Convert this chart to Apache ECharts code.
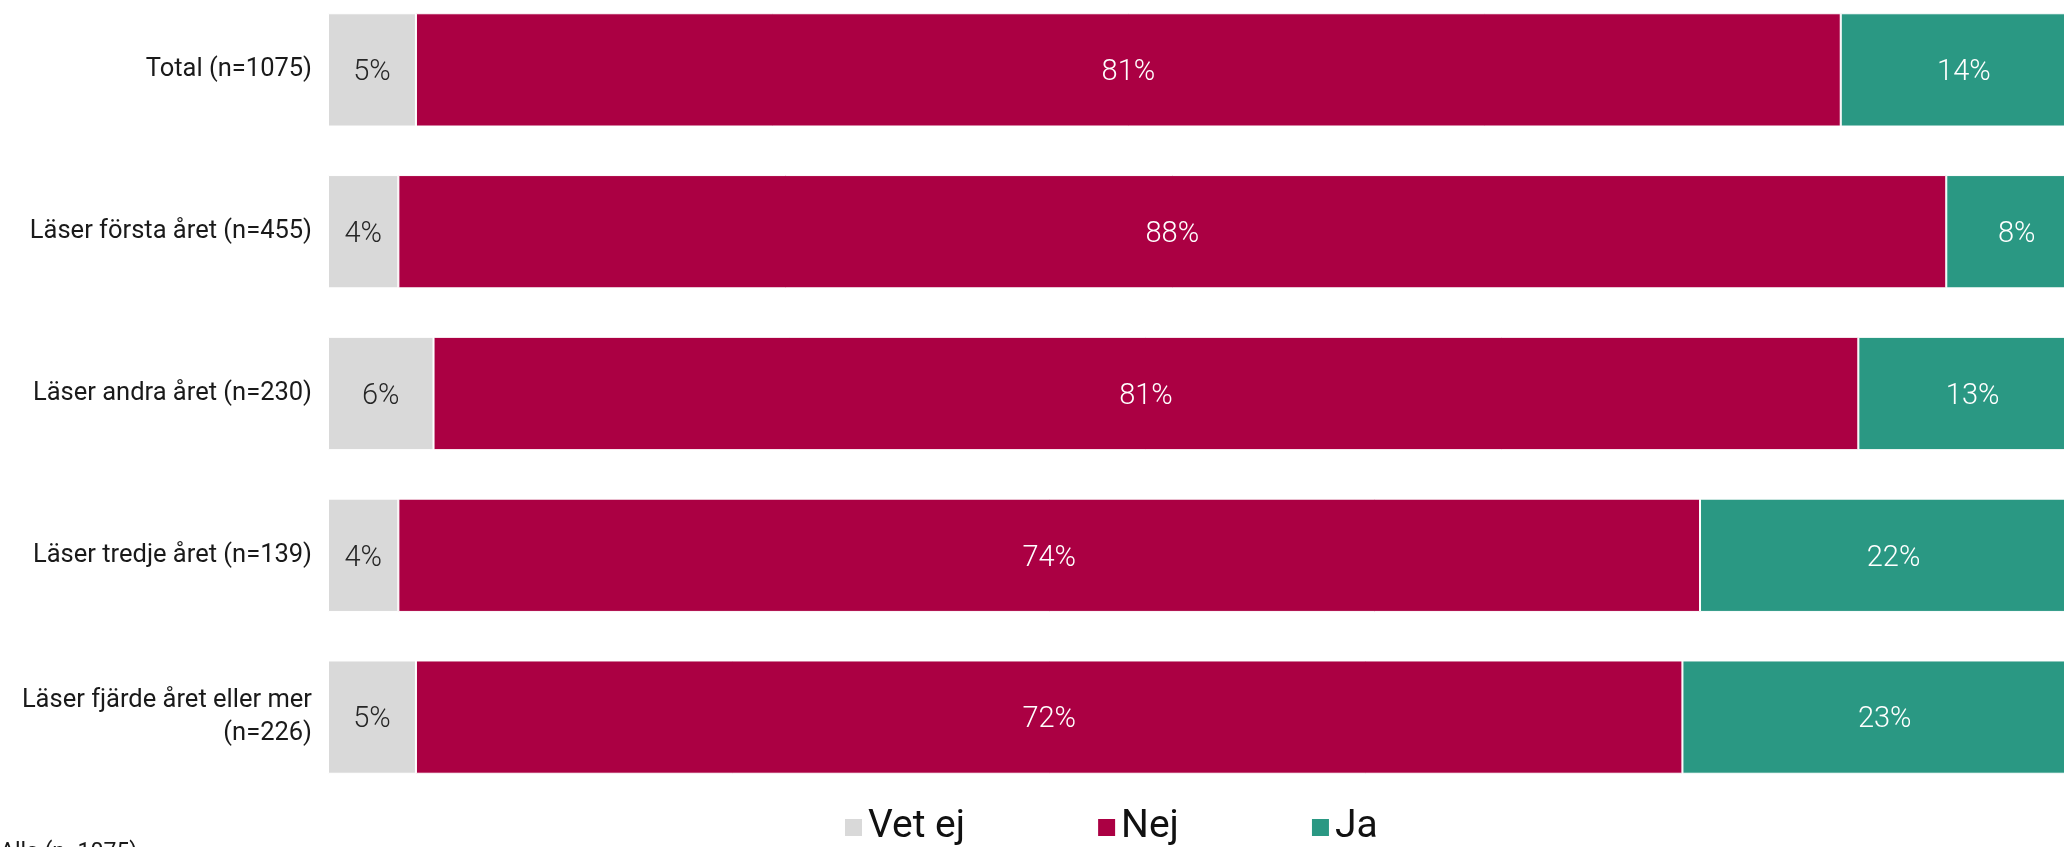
<!DOCTYPE html>
<html>
<head>
<meta charset="utf-8">
<script src="https://cdn.jsdelivr.net/npm/echarts@6/dist/echarts.min.js"></script>
<style>
html,body{margin:0;padding:0;background:#fff;}
#chart{width:2064px;height:847px;}
</style>
</head>
<body>
<div id="chart"></div>
<script>
const categories = [
  'Total (n=1075)',
  'Läser första året (n=455)',
  'Läser andra året (n=230)',
  'Läser tredje året (n=139)',
  'Läser fjärde året eller mer\n(n=226)'
];
const seriesNames = ['Vet ej', 'Nej', 'Ja'];
const vetEj = [5, 4, 6, 4, 5];
const nej = [81, 88, 81, 74, 72];
const ja = [14, 8, 13, 22, 23];
const baseNote = 'Alla (n=1075)';

const colors = ['#d9d9d9', '#ab0043', '#2a9883'];
const labelColors = ['#262626', '#ffffff', '#ffffff'];
const FONT = 'Roboto, "Noto Sans", sans-serif';

const chart = echarts.init(document.getElementById('chart'), null, {renderer: 'canvas'});

function mkSeries(name, data, i) {
  return {
    name: name,
    type: 'bar',
    stack: 'total',
    data: data,
    barCategoryGap: '30%',
    itemStyle: {color: colors[i], borderColor: '#ffffff', borderWidth: 1},
    label: {
      show: true,
      position: 'inside',
      offset: [0, 3],
      formatter: '{c}%',
      color: labelColors[i],
      fontFamily: FONT,
      fontSize: 29,
      fontWeight: 300
    },
    emphasis: {disabled: true}
  };
}

chart.setOption({
  animation: false,
  backgroundColor: '#ffffff',
  color: colors,
  grid: {left: 328, right: -23, top: -11, bottom: 49, containLabel: false, outerBoundsMode: 'none'},
  legend: {
    data: seriesNames,
    left: 843,
    top: 808,
    padding: 0,
    orient: 'horizontal',
    itemWidth: 19,
    itemHeight: 19,
    itemGap: 131,
    itemTextGap: 20,
    icon: 'rect',
    textStyle: {fontFamily: FONT, fontSize: 39, color: '#111', lineHeight: 39}
  },
  xAxis: {
    type: 'value', min: 0, max: 100,
    show: false
  },
  yAxis: {
    type: 'category',
    data: categories,
    inverse: true,
    axisLine: {show: false},
    axisTick: {show: false},
    splitLine: {show: false},
    axisLabel: {
      margin: 16,
      fontFamily: FONT,
      fontSize: 25.5,
      color: '#1a1a1a',
      lineHeight: 33,
      align: 'right',
      padding: [5, 0, 0, 0]
    }
  },
  graphic: [{
    type: 'text',
    left: 0,
    top: 842,
    style: {text: baseNote, fontFamily: FONT, fontSize: 23, fill: '#1a1a1a'}
  }],
  series: [
    mkSeries(seriesNames[0], vetEj, 0),
    mkSeries(seriesNames[1], nej, 1),
    mkSeries(seriesNames[2], ja, 2)
  ]
});
</script>
</body>
</html>
